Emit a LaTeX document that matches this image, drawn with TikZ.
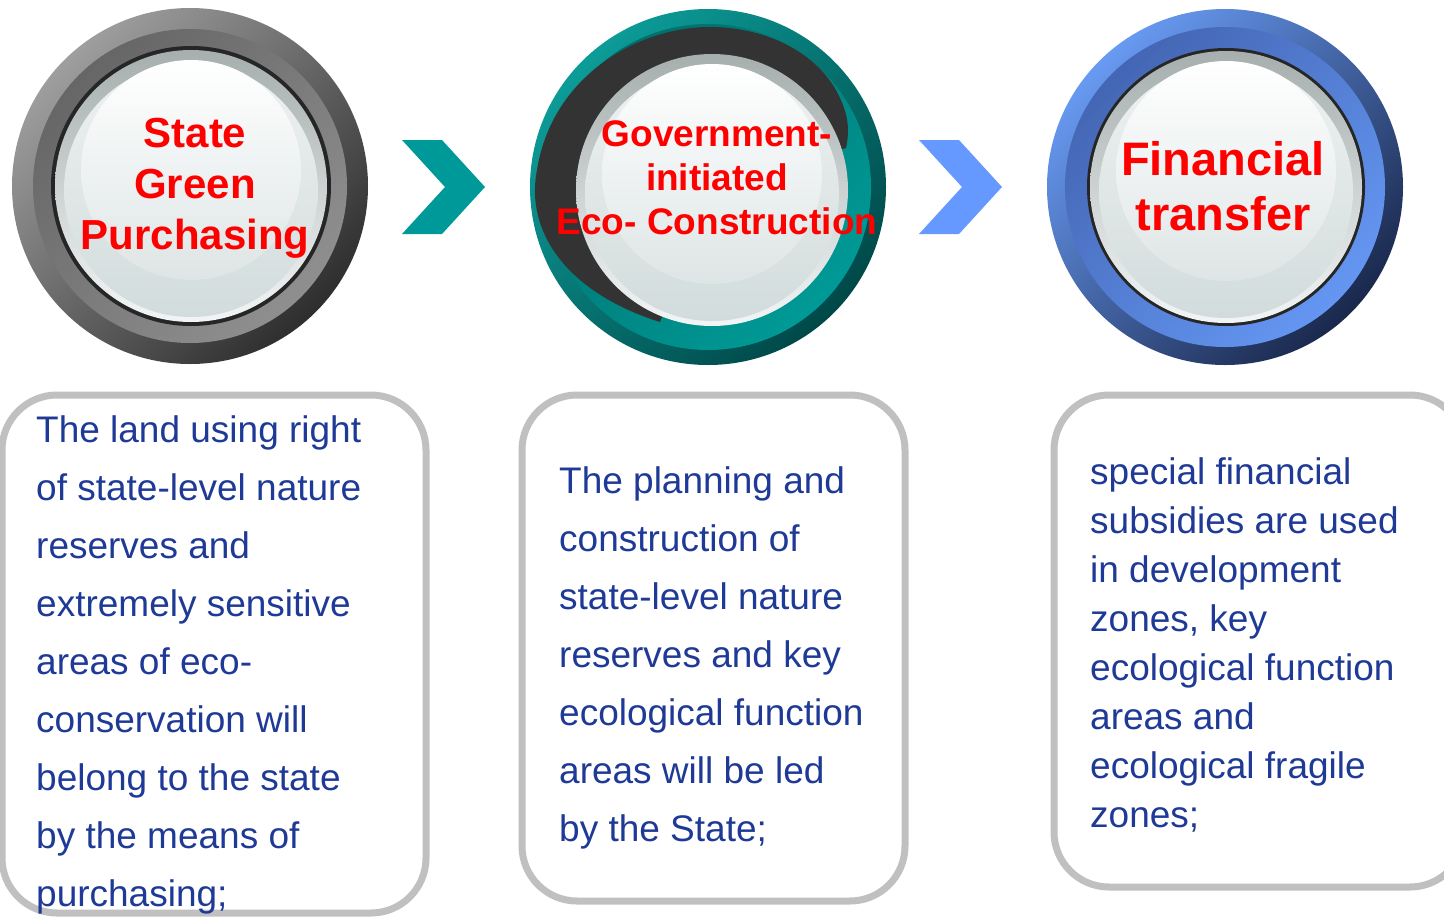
\documentclass[tikz,border=0pt]{standalone}
\usepackage{fontspec}
\setmainfont{Liberation Sans}

\definecolor{titlered}{RGB}{255,0,0}
\definecolor{textblue}{RGB}{30,58,150}
\definecolor{boxgray}{RGB}{192,192,192}
\definecolor{chevronteal}{RGB}{0,153,153}
\definecolor{chevronblue}{RGB}{102,153,255}
\definecolor{rimtop}{RGB}{166,174,174}
\definecolor{rimbot}{RGB}{242,245,245}
\definecolor{facetop}{RGB}{238,241,241}
\definecolor{facebot}{RGB}{210,220,220}
\definecolor{facehigh}{RGB}{222,229,229}

% glass face in the middle of every badge
\newcommand{\lensface}[2]{%
  \shade[top color=rimtop, bottom color=rimbot] (#1,#2) circle[radius=136pt];
  \shade[top color=facetop, bottom color=facebot] (#1,#2+4) circle[radius=127pt];
  \shade[top color=white, bottom color=facehigh] (#1,#2-16) circle[radius=110pt];
}
% chevron between two badges, centred on (#1,#2)
\newcommand{\chevron}[3]{%
  \fill[#3] (#1-41,#2-47) -- (#1-1,#2-47) -- (#1+42,#2) -- (#1-1,#2+47)
    -- (#1-41,#2+47) -- (#1+2,#2) -- cycle;
}

\tikzset{
  badgetitle/.style={text=titlered, font=\bfseries, align=center, inner sep=0pt},
  descbox/.style={draw=boxgray, line width=7pt, rounded corners=55pt, fill=white},
  desc/.style={text=textblue, align=left, inner sep=0pt, anchor=north west},
}

\begin{document}
\begin{tikzpicture}[x=1pt, y=-1pt]
  \useasboundingbox (0,0) rectangle (1444,919);
  % Grey badge: State Green Purchasing
  \begin{scope}
    \shade[top color=black!38, bottom color=black!82, shading angle=45] (190,186) circle[radius=178pt];
    \shade[top color=black!60, bottom color=black!44, shading angle=45] (190,186) circle[radius=157pt];
    \fill[black!85] (191,186) circle[radius=140pt];
    \lensface{191}{186}
  \end{scope}
  % Teal badge with the dark crescent
  \begin{scope}
    \shade[top color={rgb,255:red,12;green,156;blue,152}, bottom color={rgb,255:red,0;green,72;blue,72}, shading angle=45] (708,187) circle[radius=178pt];
    \shade[top color={rgb,255:red,0;green,110;blue,108}, bottom color={rgb,255:red,0;green,154;blue,150}, shading angle=45] (708,187) circle[radius=163pt];
    \fill[black!80] (660,322) .. controls (565,292) and (525,230) .. (537,170)
      .. controls (552,75) and (640,25) .. (715,27)
      .. controls (775,29) and (822,58) .. (840,98)
      .. controls (848,115) and (850,130) .. (846,148) -- (712,190) -- cycle;
    \lensface{712}{190}
  \end{scope}
  % Blue badge: Financial transfer
  \begin{scope}
    \shade[top color={rgb,255:red,104;green,154;blue,242}, bottom color={rgb,255:red,26;green,40;blue,76}, shading angle=45] (1225,187) circle[radius=178pt];
    \shade[top color={rgb,255:red,68;green,102;blue,180}, bottom color={rgb,255:red,100;green,150;blue,242}, shading angle=45] (1225,187) circle[radius=160pt];
    \fill[black!85] (1226,187) circle[radius=139pt];
    \lensface{1226}{187}
  \end{scope}

  \node[badgetitle, font=\fontsize{42}{51}\selectfont\bfseries] (t1) at (195,188) {State\\Green\\Purchasing};
  \node[badgetitle, font=\fontsize{37}{44}\selectfont\bfseries] (t2) at (717,178) {Government-\\initiated\\Eco- Construction};
  \node[badgetitle, font=\fontsize{47}{55}\selectfont\bfseries] (t3) at (1223,186) {Financial\\transfer};

  % Chevrons
  \chevron{443}{187}{chevronteal}
  \chevron{960}{187}{chevronblue}

  % Description boxes
  \node[descbox, minimum width=424pt, minimum height=518pt] (box1) at (214,654) {};
  \node[descbox, minimum width=383pt, minimum height=506pt] (box2) at (713.5,648) {};
  \node[descbox, minimum width=411pt, minimum height=492pt] (box3) at (1259.5,641) {};

  \node[desc, font=\fontsize{37}{58}\selectfont] (d1) at (36,415) {The land using right\\of state-level nature\\reserves and\\extremely sensitive\\areas of eco-\\conservation will\\belong to the state\\by the means of\\purchasing;};
  \node[desc, font=\fontsize{37}{58}\selectfont] (d2) at (559,466) {The planning and\\construction of\\state-level nature\\reserves and key\\ecological function\\areas will be led\\by the State;};
  \node[desc, font=\fontsize{37}{49}\selectfont] (d3) at (1090,457) {special financial\\subsidies are used\\in development\\zones, key\\ecological function\\areas and\\ecological fragile\\zones;};
\end{tikzpicture}
\end{document}
